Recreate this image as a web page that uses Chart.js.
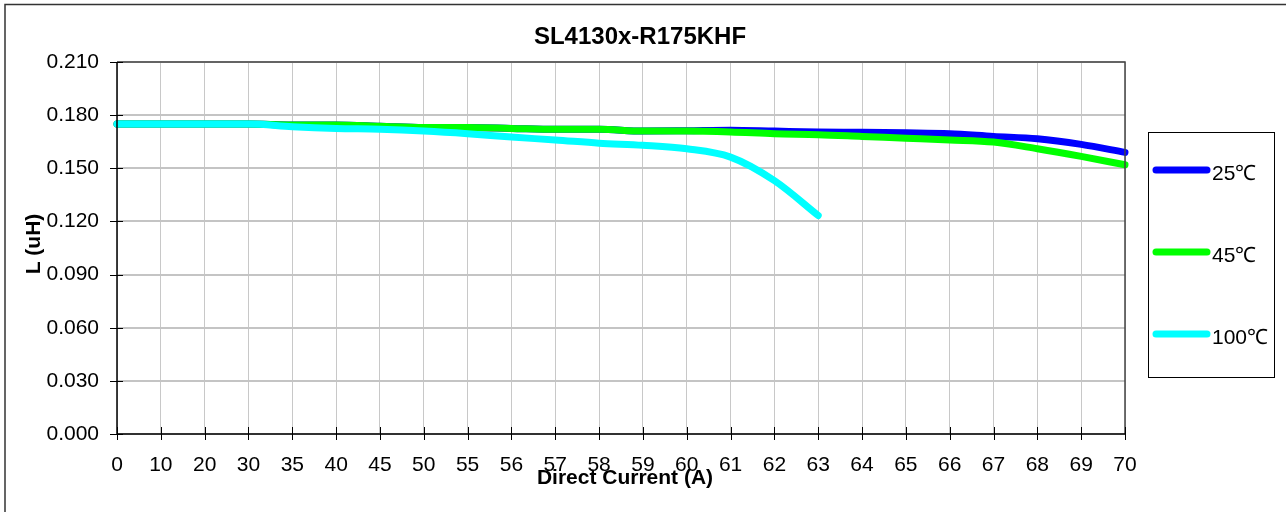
<!DOCTYPE html>
<html lang="en">
<head>
    <meta charset="UTF-8">
    <title>SL4130x-R175KHF</title>
    <script src="https://cdn.jsdelivr.net/npm/chart.js"></script>
    <style>
        body { margin: 0; background: #fff; }
        #chart { display: block; }
    </style>
</head>
<body>
    <canvas id="chart" width="1286" height="512"></canvas>

    <script>
        // data
        const currents = ['0', '10', '20', '30', '35', '40', '45', '50', '55', '56', '57', '58', '59', '60', '61', '62', '63', '64', '65', '66', '67', '68', '69', '70'];
        const l25 = [0.175, 0.175, 0.175, 0.175, 0.1745, 0.1745, 0.1738, 0.173, 0.173, 0.1725, 0.172, 0.172, 0.171, 0.1712, 0.1715, 0.171, 0.1705, 0.1703, 0.170, 0.1695, 0.168, 0.1667, 0.1635, 0.159];
        const l45 = [0.175, 0.175, 0.175, 0.175, 0.1745, 0.1745, 0.1738, 0.173, 0.173, 0.1725, 0.172, 0.172, 0.171, 0.171, 0.1705, 0.1695, 0.169, 0.168, 0.167, 0.166, 0.1648, 0.161, 0.1567, 0.152];
        const l100 = [0.175, 0.175, 0.175, 0.175, 0.1735, 0.1725, 0.172, 0.171, 0.1695, 0.1676, 0.166, 0.1642, 0.163, 0.161, 0.1563, 0.143, 0.1233];
        const yTicks = [0, 0.03, 0.06, 0.09, 0.12, 0.15, 0.18, 0.21];
        const seriesNames = ['25℃', '45℃', '100℃'];
        const seriesColors = ['#0000ff', '#00ff00', '#00ffff'];

        const tickFont = { family: 'Arial, "Liberation Sans", sans-serif', size: 21 };

        // frame, tick marks, titles and the boxed legend
        const decorations = {
            id: 'decorations',
            afterDatasetsDraw(chart) {
                const ctx = chart.ctx;
                const a = chart.chartArea;
                const xs = chart.scales.x, ys = chart.scales.y;
                ctx.save();

                // outer border (only left and top fall inside the picture)
                ctx.strokeStyle = '#333';
                ctx.lineWidth = 1.5;
                ctx.beginPath();
                ctx.moveTo(5, 520); ctx.lineTo(5, 4.5); ctx.lineTo(1290, 4.5);
                ctx.stroke();

                // plot frame
                ctx.strokeStyle = '#444';
                ctx.lineWidth = 1.5;
                ctx.beginPath();
                ctx.moveTo(a.left, a.top); ctx.lineTo(a.right, a.top); ctx.lineTo(a.right, a.bottom);
                ctx.stroke();
                ctx.strokeStyle = '#000';
                ctx.beginPath();
                ctx.moveTo(a.left, a.top); ctx.lineTo(a.left, a.bottom); ctx.lineTo(a.right, a.bottom);
                ctx.stroke();

                // tick marks crossing the axes
                ctx.lineWidth = 1;
                ctx.beginPath();
                ys.ticks.forEach((t, i) => {
                    const y = Math.round(ys.getPixelForTick(i)) + 0.5;
                    ctx.moveTo(a.left - 7, y); ctx.lineTo(a.left + 6, y);
                });
                xs.ticks.forEach((t, i) => {
                    const x = Math.round(xs.getPixelForTick(i)) + 0.5;
                    ctx.moveTo(x, a.bottom - 7); ctx.lineTo(x, a.bottom + 6);
                });
                ctx.stroke();

                // titles
                ctx.fillStyle = '#000';
                ctx.textAlign = 'center';
                ctx.textBaseline = 'middle';
                ctx.font = 'bold 24px Arial, "Liberation Sans", sans-serif';
                ctx.fillText('SL4130x-R175KHF', 640, 37);
                ctx.font = 'bold 21px Arial, "Liberation Sans", sans-serif';
                ctx.fillText('Direct Current (A)', 625, 478);
                ctx.save();
                ctx.translate(34, 244);
                ctx.rotate(-Math.PI / 2);
                ctx.fillText('L (uH)', 0, 0);
                ctx.restore();

                // legend box
                ctx.strokeStyle = '#000';
                ctx.lineWidth = 1;
                ctx.strokeRect(1148.5, 132.5, 126, 245);
                const rows = [170, 252, 334];
                chart.data.datasets.forEach((ds, i) => {
                    const y = rows[i];
                    ctx.strokeStyle = ds.borderColor;
                    ctx.lineWidth = 7;
                    ctx.lineCap = 'round';
                    ctx.beginPath();
                    ctx.moveTo(1156, y); ctx.lineTo(1207, y);
                    ctx.stroke();
                    ctx.fillStyle = '#000';
                    ctx.textAlign = 'left';
                    ctx.font = '21px Arial, "Liberation Sans", sans-serif';
                    ctx.fillText(ds.label, 1212, y + 4);
                });
                ctx.restore();
            }
        };

        const makeSet = (i, data, order) => ({
            label: seriesNames[i],
            data: data,
            borderColor: seriesColors[i],
            backgroundColor: seriesColors[i],
            borderWidth: 7,
            borderCapStyle: 'round',
            borderJoinStyle: 'round',
            pointRadius: 0,
            cubicInterpolationMode: 'monotone',
            fill: false,
            clip: false,
            order: order
        });

        new Chart(document.getElementById('chart'), {
            type: 'line',
            data: {
                labels: currents,
                datasets: [
                    makeSet(0, l25, 3),
                    makeSet(1, l45, 2),
                    makeSet(2, l100, 1)
                ]
            },
            options: {
                responsive: false,
                animation: false,
                layout: { padding: { left: 0, top: 62, right: 161, bottom: 0 } },
                plugins: {
                    legend: { display: false },
                    title: { display: false },
                    tooltip: { enabled: false }
                },
                scales: {
                    x: {
                        type: 'category',
                        offset: false,
                        grid: { color: '#c8c8c8', lineWidth: 1, drawTicks: false },
                        border: { display: false },
                        ticks: { color: '#000', font: tickFont, padding: 19, maxRotation: 0, autoSkip: false },
                        afterFit(scale) { scale.height = 78; }
                    },
                    y: {
                        min: 0,
                        max: 0.21,
                        afterBuildTicks(scale) { scale.ticks = yTicks.map(v => ({ value: v })); },
                        grid: { color: '#c4c4c4', lineWidth: 2, drawTicks: false },
                        border: { display: false },
                        ticks: { color: '#000', font: tickFont, padding: 18, callback: v => v.toFixed(3) },
                        afterFit(scale) { scale.width = 117; }
                    }
                }
            },
            plugins: [decorations]
        });
    </script>
</body>
</html>
